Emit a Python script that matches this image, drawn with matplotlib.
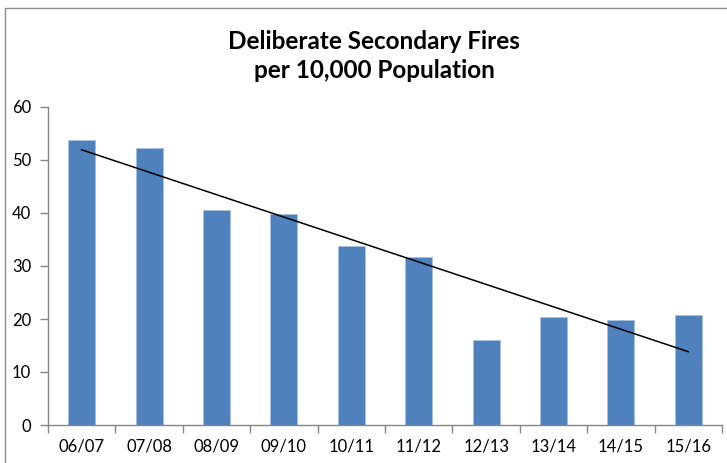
import numpy as np
import matplotlib
matplotlib.use("Agg")
import matplotlib.pyplot as plt
from matplotlib.patches import Rectangle

years = ["06/07", "07/08", "08/09", "09/10", "10/11",
         "11/12", "12/13", "13/14", "14/15", "15/16"]
fires = [53.8, 52.2, 40.5, 39.8, 33.8, 31.7, 16.1, 20.4, 19.8, 20.7]

plt.rcParams['font.family'] = ['Lato', 'DejaVu Sans']

fig = plt.figure(figsize=(7.27, 4.63), dpi=100)
W, H = 727, 463
ax = fig.add_axes([48 / W, 1 - 425 / H, (722 - 48) / W, (425 - 107) / H])

# outer chart frame (cut off at right / bottom like the reference)
fig.patches.append(Rectangle((5 / W, -0.1), 1.2, 1 - 8 / H + 0.1,
                             transform=fig.transFigure, fill=False,
                             edgecolor='#8c8c8c', linewidth=1.0))

x = np.arange(len(years))
ax.bar(x, fires, width=0.4, color='#4F81BD', edgecolor='#a9c1e0', linewidth=0.6, zorder=2)

# linear trend line
k, b = np.polyfit(x, fires, 1)
ax.plot(x, k * x + b, color='black', linewidth=1.1, zorder=3)

ax.set_xlim(-0.5, len(years) - 0.5)
ax.set_ylim(0, 60)
ax.set_yticks(range(0, 61, 10))
ax.set_xticks(x)
ax.set_xticklabels(years)
ax.set_xticks(np.arange(-0.5, len(years)), minor=True)
ax.tick_params(axis='x', which='major', length=0, pad=10, labelsize=12)
ax.tick_params(axis='x', which='minor', length=6, color='#868686', width=1)
ax.tick_params(axis='y', length=6, color='#868686', width=1, labelsize=12, pad=6)

for s in ['top', 'right']:
    ax.spines[s].set_visible(False)
for s in ['left', 'bottom']:
    ax.spines[s].set_color('#868686')
    ax.spines[s].set_linewidth(1.0)

fig.text(374 / W, 1 - 56 / H, "Deliberate Secondary Fires\nper 10,000 Population",
         ha='center', va='center', fontsize=17.5, fontweight='bold', linespacing=1.3)

fig.savefig("out.png", dpi=100)
